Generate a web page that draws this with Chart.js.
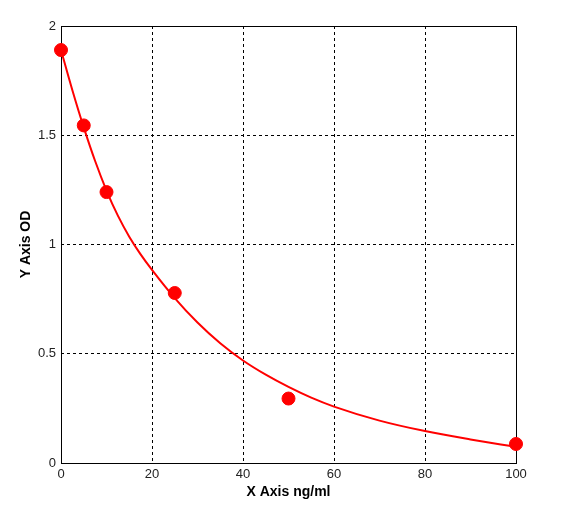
<!DOCTYPE html>
<html>
<head>
<meta charset="utf-8">
<script src="https://cdn.jsdelivr.net/npm/chart.js@4/dist/chart.umd.min.js"></script>
<style>
html,body{margin:0;padding:0;background:#fff;}
#wrap{width:586px;height:522px;position:relative;}
</style>
</head>
<body>
<div id="wrap"><canvas id="c" width="586" height="522"></canvas></div>
<script>
// Measured standards
const pointX = [0, 5, 10, 25, 50, 100];
const pointY = [1.89, 1.545, 1.24, 0.778, 0.295, 0.087];
// Fitted curve
const curveX = [0, 2.5, 5, 7.5, 10, 12.5, 15, 17.5, 20, 25, 30, 35, 40, 45, 50, 55, 60, 70, 80, 90, 100];
const curveY = [1.89, 1.706, 1.536, 1.382, 1.247, 1.132, 1.036, 0.955, 0.884, 0.755, 0.643, 0.548, 0.469, 0.404, 0.348, 0.299, 0.258, 0.194, 0.146, 0.108, 0.074];
const xTicks = [0, 20, 40, 60, 80, 100];
const yTicks = [0, 0.5, 1, 1.5, 2];
const xTitle = 'X Axis ng/ml';
const yTitle = 'Y Axis OD';

const frame = {
  id: 'frame',
  beforeDatasetsDraw(chart) {
    const a = chart.chartArea, ctx = chart.ctx;
    ctx.save();
    ctx.strokeStyle = '#000';
    ctx.lineWidth = 1;
    ctx.setLineDash([]);
    ctx.strokeRect(Math.round(a.left) + 0.5, Math.round(a.top) + 0.5, Math.round(a.right - a.left), Math.round(a.bottom - a.top));
    ctx.restore();
  }
};

const tickFont = {family: '"Liberation Sans", Arial, sans-serif', size: 13};
const titleFont = {family: '"Liberation Sans", Arial, sans-serif', size: 14, weight: 'bold'};

new Chart(document.getElementById('c'), {
  type: 'scatter',
  data: {
    datasets: [
      {
        type: 'line',
        data: curveX.map((x, i) => ({x: x, y: curveY[i]})),
        borderColor: '#ff0000',
        borderWidth: 2,
        pointRadius: 0,
        cubicInterpolationMode: 'monotone',
        fill: false,
        clip: false
      },
      {
        data: pointX.map((x, i) => ({x: x, y: pointY[i]})),
        backgroundColor: '#ff0000',
        borderColor: '#ff0000',
        borderWidth: 1,
        pointRadius: 6.5,
        clip: false
      }
    ]
  },
  options: {
    responsive: false,
    animation: false,
    devicePixelRatio: 1,
    layout: {padding: {left: 0, top: 26, right: 70, bottom: 0}},
    plugins: {legend: {display: false}, tooltip: {enabled: false}},
    scales: {
      x: {
        type: 'linear',
        min: 0, max: 100,
        afterBuildTicks(s) { s.ticks = xTicks.map(v => ({value: v})); },
        afterFit(s) { s.height = 59; },
        grid: {color: '#000', lineWidth: 1, drawTicks: false, tickLength: 0},
        border: {display: false, dash: [3, 3]},
        ticks: {font: tickFont, color: '#222', padding: 4, maxRotation: 0, autoSkip: false, callback: v => String(v)},
        title: {display: true, text: xTitle, font: titleFont, color: '#000', padding: {top: 0, bottom: 21.5}}
      },
      y: {
        type: 'linear',
        min: 0, max: 2,
        afterBuildTicks(s) { s.ticks = yTicks.map(v => ({value: v})); },
        afterFit(s) { s.width = 61; },
        grid: {color: '#000', lineWidth: 1, drawTicks: false, tickLength: 0},
        border: {display: false, dash: [3, 3]},
        ticks: {font: tickFont, color: '#222', padding: 5, autoSkip: false, callback: v => String(v)},
        title: {display: true, text: yTitle, font: titleFont, color: '#000', padding: {top: 17.5, bottom: 0}}
      }
    }
  },
  plugins: [frame]
});
</script>
</body>
</html>
